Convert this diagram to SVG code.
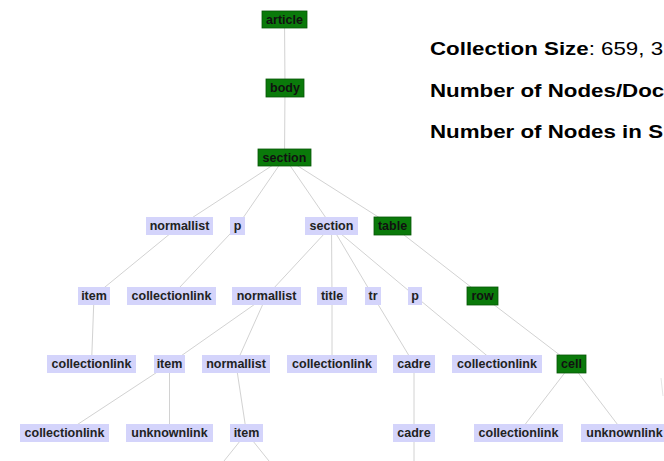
<svg xmlns="http://www.w3.org/2000/svg" width="664" height="461" viewBox="0 0 664 461">
  <style>
    .edge { stroke: #d2d2d2; stroke-width: 1; fill: none; }
    .box { fill: #d4d4fb; }
    .hot { fill: #0a7a0a; stroke: #055505; stroke-width: 0.8; }
    .lbl { font-family: "Liberation Sans", Arial, sans-serif; font-weight: bold; font-size: 12.5px; fill: #222; text-anchor: middle; }
    .hot-lbl { fill: #111; }
    .info { font-family: "Liberation Sans", Arial, sans-serif; font-size: 18px; fill: #000; }
    .b { font-weight: bold; }
  </style>
  <rect width="664" height="461" fill="#fff"/>

  <!-- connectors: centre to centre, drawn under the opaque boxes -->
  <g id="edges">
    <line class="edge" x1="284.5" y1="19.5" x2="285" y2="88"/>
    <line class="edge" x1="285" y1="88" x2="284.5" y2="157.5"/>
    <line class="edge" x1="284.5" y1="157.5" x2="179.5" y2="226"/>
    <line class="edge" x1="284.5" y1="157.5" x2="237.5" y2="226"/>
    <line class="edge" x1="284.5" y1="157.5" x2="331.5" y2="226"/>
    <line class="edge" x1="284.5" y1="157.5" x2="392.5" y2="226"/>
    <line class="edge" x1="179.5" y1="226" x2="94" y2="296"/>
    <line class="edge" x1="237.5" y1="226" x2="171.5" y2="296"/>
    <line class="edge" x1="331.5" y1="226" x2="266.5" y2="296"/>
    <line class="edge" x1="331.5" y1="226" x2="332" y2="296"/>
    <line class="edge" x1="331.5" y1="226" x2="373" y2="296"/>
    <line class="edge" x1="331.5" y1="226" x2="415" y2="296"/>
    <line class="edge" x1="392.5" y1="226" x2="482.5" y2="296"/>
    <line class="edge" x1="94" y1="296" x2="91.5" y2="364"/>
    <line class="edge" x1="266.5" y1="296" x2="169.5" y2="364"/>
    <line class="edge" x1="266.5" y1="296" x2="236" y2="364"/>
    <line class="edge" x1="332" y1="296" x2="332" y2="364"/>
    <line class="edge" x1="373" y1="296" x2="414" y2="364"/>
    <line class="edge" x1="415" y1="296" x2="497" y2="364"/>
    <line class="edge" x1="482.5" y1="296" x2="571.5" y2="364"/>
    <line class="edge" x1="169.5" y1="364" x2="64.5" y2="433"/>
    <line class="edge" x1="169.5" y1="364" x2="169.5" y2="433"/>
    <line class="edge" x1="236" y1="364" x2="246.5" y2="433"/>
    <line class="edge" x1="414" y1="364" x2="414" y2="433"/>
    <line class="edge" x1="571.5" y1="364" x2="518.5" y2="433"/>
    <line class="edge" x1="571.5" y1="364" x2="624" y2="433"/>
    <line class="edge" x1="246.5" y1="433" x2="224" y2="461"/>
    <line class="edge" x1="246.5" y1="433" x2="269" y2="461"/>
    <line class="edge" x1="414" y1="433" x2="414" y2="461"/>
    <line class="edge" x1="661" y1="378" x2="663" y2="396" stroke-opacity="0.6"/>
  </g>

  <!-- level 1-3 -->
  <g id="n-article"><rect class="hot" x="262" y="11" width="45" height="17"/><text class="lbl hot-lbl" x="284.5" y="23.8">article</text></g>
  <g id="n-body"><rect class="hot" x="266" y="79" width="38" height="18"/><text class="lbl hot-lbl" x="285" y="92.3">body</text></g>
  <g id="n-section1"><rect class="hot" x="258" y="149" width="53" height="17"/><text class="lbl hot-lbl" x="284.5" y="161.8">section</text></g>

  <!-- level 4 -->
  <g id="n-normallist1"><rect class="box" x="146" y="217" width="67" height="18"/><text class="lbl" x="179.5" y="230.3">normallist</text></g>
  <g id="n-p1"><rect class="box" x="230" y="217" width="15" height="18"/><text class="lbl" x="237.5" y="230.3">p</text></g>
  <g id="n-section2"><rect class="box" x="305" y="217" width="53" height="18"/><text class="lbl" x="331.5" y="230.3">section</text></g>
  <g id="n-table"><rect class="hot" x="374" y="217" width="37" height="18"/><text class="lbl hot-lbl" x="392.5" y="230.3">table</text></g>

  <!-- level 5 -->
  <g id="n-item1"><rect class="box" x="78" y="287" width="32" height="18"/><text class="lbl" x="94" y="300.3">item</text></g>
  <g id="n-collectionlink1"><rect class="box" x="127" y="287" width="89" height="18"/><text class="lbl" x="171.5" y="300.3">collectionlink</text></g>
  <g id="n-normallist2"><rect class="box" x="232" y="287" width="69" height="18"/><text class="lbl" x="266.5" y="300.3">normallist</text></g>
  <g id="n-title"><rect class="box" x="317" y="287" width="30" height="18"/><text class="lbl" x="332" y="300.3">title</text></g>
  <g id="n-tr"><rect class="box" x="365" y="287" width="16" height="18"/><text class="lbl" x="373" y="300.3">tr</text></g>
  <g id="n-p2"><rect class="box" x="408" y="287" width="14" height="18"/><text class="lbl" x="415" y="300.3">p</text></g>
  <g id="n-row"><rect class="hot" x="467" y="287" width="31" height="18"/><text class="lbl hot-lbl" x="482.5" y="300.3">row</text></g>

  <!-- level 6 -->
  <g id="n-collectionlink2"><rect class="box" x="47" y="355" width="89" height="18"/><text class="lbl" x="91.5" y="368.3">collectionlink</text></g>
  <g id="n-item2"><rect class="box" x="154" y="355" width="31" height="18"/><text class="lbl" x="169.5" y="368.3">item</text></g>
  <g id="n-normallist3"><rect class="box" x="202" y="355" width="68" height="18"/><text class="lbl" x="236" y="368.3">normallist</text></g>
  <g id="n-collectionlink3"><rect class="box" x="287" y="355" width="90" height="18"/><text class="lbl" x="332" y="368.3">collectionlink</text></g>
  <g id="n-cadre1"><rect class="box" x="393" y="355" width="42" height="18"/><text class="lbl" x="414" y="368.3">cadre</text></g>
  <g id="n-collectionlink4"><rect class="box" x="452" y="355" width="90" height="18"/><text class="lbl" x="497" y="368.3">collectionlink</text></g>
  <g id="n-cell"><rect class="hot" x="557" y="355" width="29" height="18"/><text class="lbl hot-lbl" x="571.5" y="368.3">cell</text></g>

  <!-- level 7 -->
  <g id="n-collectionlink5"><rect class="box" x="20" y="424" width="89" height="18"/><text class="lbl" x="64.5" y="437.3">collectionlink</text></g>
  <g id="n-unknownlink1"><rect class="box" x="126" y="424" width="87" height="18"/><text class="lbl" x="169.5" y="437.3">unknownlink</text></g>
  <g id="n-item3"><rect class="box" x="230" y="424" width="33" height="18"/><text class="lbl" x="246.5" y="437.3">item</text></g>
  <g id="n-cadre2"><rect class="box" x="393" y="424" width="42" height="18"/><text class="lbl" x="414" y="437.3">cadre</text></g>
  <g id="n-collectionlink6"><rect class="box" x="474" y="424" width="89" height="18"/><text class="lbl" x="518.5" y="437.3">collectionlink</text></g>
  <g id="n-unknownlink2"><rect class="box" x="581" y="424" width="87" height="18"/><text class="lbl" x="624.5" y="437.3">unknownlink</text></g>

  <!-- collection statistics, set slightly wide -->
  <g id="stats" transform="translate(430 0) scale(1.24 1) translate(-430 0)">
    <text class="info" x="430" y="55"><tspan class="b">Collection Size</tspan>: 659, 3</text>
    <text class="info b" x="430" y="97">Number of Nodes/Doc</text>
    <text class="info b" x="430" y="138.5">Number of Nodes in S</text>
  </g>
</svg>
